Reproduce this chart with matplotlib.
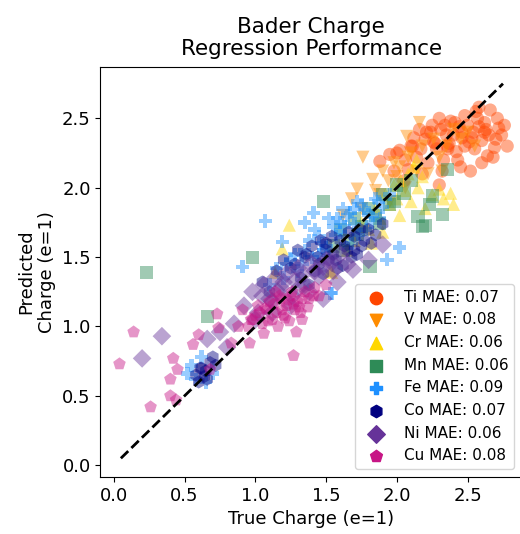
import numpy as np
import matplotlib
matplotlib.use("Agg")
import matplotlib.pyplot as plt

# true / predicted Bader charges
elements = ["Ti", "V", "Cr", "Mn", "Fe", "Co", "Ni", "Cu"]
mae = [0.07, 0.08, 0.06, 0.06, 0.09, 0.07, 0.06, 0.08]

ti_true = [1.88, 1.95, 2.02, 2.08, 2.10, 2.14, 2.16, 2.20, 2.22, 2.25, 2.28, 2.30, 2.32, 2.35, 2.37,
           2.40, 2.42, 2.44, 2.46, 2.48, 2.50, 2.52, 2.54, 2.56, 2.58, 2.60, 2.62, 2.64, 2.66, 2.69,
           2.72, 2.74, 2.05, 2.18, 2.27, 2.33, 2.38, 2.45, 2.51, 2.57, 2.63, 2.68, 1.98, 2.12, 2.24,
           2.36, 2.48, 2.60, 2.70, 2.30, 2.00, 2.06, 2.11, 2.17, 2.21, 2.26, 2.31, 2.36, 2.41, 2.46,
           2.53, 2.58, 2.65, 2.71, 2.76, 2.78, 2.43, 2.55, 2.34, 2.62]
ti_pred = [2.19, 2.24, 2.27, 2.13, 2.30, 2.22, 2.42, 2.35, 2.18, 2.45, 2.28, 2.50, 2.12, 2.38, 2.32,
           2.38, 2.26, 2.44, 2.36, 2.30, 2.45, 2.12, 2.40, 2.55, 2.58, 2.34, 2.47, 2.23, 2.56, 2.29,
           2.43, 2.38, 2.05, 2.10, 2.32, 2.20, 2.48, 2.15, 2.33, 2.50, 2.42, 2.22, 2.12, 2.36, 2.40,
           2.28, 2.52, 2.18, 2.35, 2.02, 2.25, 2.20, 2.30, 2.28, 2.40, 2.33, 2.42, 2.30, 2.47, 2.40,
           2.36, 2.44, 2.38, 2.50, 2.45, 2.30, 2.20, 2.28, 2.45, 2.40]

v_true = [1.62, 1.68, 1.72, 1.76, 1.83, 1.85, 1.90, 1.94, 1.98, 2.02, 2.06, 2.10, 2.14, 2.18, 2.22,
          2.26, 2.30, 2.35, 2.40, 2.45, 1.75, 1.88, 2.00, 2.07, 2.16, 2.32, 2.50, 2.55, 1.95, 2.08]
v_pred = [1.80, 1.92, 1.99, 2.22, 2.06, 1.98, 2.12, 2.05, 2.18, 2.15, 2.00, 2.25, 2.12, 2.30, 2.10,
          2.35, 2.22, 2.30, 2.42, 2.35, 1.85, 1.95, 2.08, 2.37, 2.47, 2.12, 2.40, 2.30, 1.90, 2.22]

cr_true = [1.24, 1.19, 1.14, 1.53, 1.54, 1.70, 1.75, 1.80, 1.85, 1.88, 1.92, 1.95, 1.98, 2.00, 2.03,
           2.06, 2.08, 2.10, 2.12, 2.15, 2.18, 2.20, 2.25, 2.30, 2.33, 2.38, 2.40, 1.90, 2.02, 2.14,
           1.82, 1.65]
cr_pred = [1.73, 1.56, 1.39, 1.40, 1.39, 1.62, 1.75, 1.70, 1.85, 1.78, 1.95, 1.88, 2.02, 1.92, 2.05,
           1.98, 2.10, 1.90, 2.15, 2.00, 2.08, 1.85, 1.95, 1.99, 1.92, 1.96, 1.88, 1.68, 1.80, 2.20,
           1.60, 1.55]

mn_true = [0.23, 0.98, 0.66, 1.81, 1.48, 2.15, 2.18, 2.32, 2.36, 2.25, 2.23, 2.20, 1.55, 1.60, 1.65,
           1.70, 1.75, 1.80, 1.85, 1.90, 1.95, 2.00, 2.05, 1.72, 1.88, 1.62, 1.98, 2.10]
mn_pred = [1.39, 1.50, 1.07, 1.43, 1.90, 1.79, 1.72, 1.81, 2.13, 1.94, 1.88, 1.73, 1.58, 1.70, 1.62,
           1.78, 1.72, 1.85, 1.80, 1.95, 1.88, 2.02, 1.96, 1.66, 1.74, 1.55, 1.90, 2.05]

fe_true = [1.07, 1.35, 1.41, 1.19, 2.02, 1.93, 1.54, 0.91, 1.53, 0.55, 0.58, 0.65, 0.70, 0.52, 0.62,
           1.20, 1.25, 1.30, 1.35, 1.40, 1.45, 1.50, 1.55, 1.60, 1.65, 1.70, 1.75, 1.80, 1.85, 1.90,
           1.95, 1.38, 1.48, 1.58, 1.68, 1.78, 1.88, 1.28, 1.62, 1.72, 1.82, 1.10, 1.15, 1.42, 1.47,
           1.52, 1.57, 1.63, 1.67, 1.73, 1.77, 1.83, 1.87, 1.45, 1.60, 1.70, 1.33, 1.22]
fe_pred = [1.76, 1.75, 1.82, 1.61, 1.57, 1.48, 1.24, 1.43, 1.24, 0.72, 0.62, 0.60, 0.66, 0.66, 0.78,
           1.35, 1.48, 1.40, 1.55, 1.50, 1.65, 1.58, 1.72, 1.68, 1.80, 1.74, 1.88, 1.82, 1.92, 1.86,
           1.95, 1.62, 1.55, 1.78, 1.60, 1.70, 1.78, 1.52, 1.85, 1.90, 1.75, 1.30, 1.42, 1.70, 1.60,
           1.78, 1.66, 1.72, 1.82, 1.66, 1.84, 1.80, 1.90, 1.52, 1.75, 1.85, 1.45, 1.45]

co_true = [0.58, 0.62, 0.65, 0.68, 0.72, 0.60, 0.70, 1.15, 1.20, 1.25, 1.30, 1.35, 1.40, 1.45, 1.50,
           1.55, 1.60, 1.65, 1.70, 1.75, 1.80, 1.85, 1.90, 1.32, 1.42, 1.52, 1.62, 1.72, 1.82, 1.38,
           1.48, 1.58, 1.68, 1.05, 1.10, 1.28, 1.36, 1.44, 1.50, 1.57, 1.63, 1.70, 1.77, 1.46, 1.54,
           1.66, 1.74, 0.64, 0.66, 0.61]
co_pred = [0.65, 0.70, 0.68, 0.74, 0.72, 0.60, 0.78, 1.40, 1.48, 1.42, 1.55, 1.50, 1.58, 1.45, 1.60,
           1.52, 1.62, 1.55, 1.65, 1.58, 1.70, 1.66, 1.74, 1.35, 1.40, 1.48, 1.44, 1.52, 1.60, 1.30,
           1.38, 1.42, 1.50, 1.32, 1.25, 1.45, 1.52, 1.50, 1.55, 1.48, 1.58, 1.55, 1.62, 1.62, 1.65,
           1.68, 1.70, 0.64, 0.62, 0.70]

ni_true = [0.20, 0.34, 0.66, 0.75, 0.85, 0.92, 0.98, 1.02, 1.06, 1.10, 1.14, 1.18, 1.22, 1.26, 1.30,
           1.35, 1.40, 1.45, 1.50, 1.55, 1.60, 1.65, 1.69, 1.80, 1.90, 1.00, 1.12, 1.25, 1.38, 1.48,
           0.80, 1.58, 1.05, 1.12, 1.20, 1.28, 1.34, 1.42, 1.48, 1.54, 1.16, 1.31]
ni_pred = [0.77, 0.93, 0.91, 0.96, 1.02, 1.15, 1.25, 1.10, 1.30, 1.20, 1.35, 1.28, 1.38, 1.22, 1.42,
           1.30, 1.45, 1.36, 1.48, 1.40, 1.52, 1.45, 1.41, 1.48, 1.59, 1.05, 1.10, 1.15, 1.25, 1.20,
           0.85, 1.32, 1.22, 1.18, 1.32, 1.33, 1.38, 1.40, 1.43, 1.46, 1.25, 1.28]

cu_true = [0.04, 0.14, 0.26, 0.42, 0.45, 0.40, 0.40, 0.44, 0.56, 0.60, 0.73, 0.74, 0.83, 1.27, 0.91,
           0.96, 1.29, 1.33, 0.68, 0.95, 1.00, 1.02, 1.05, 1.08, 1.10, 1.12, 1.15, 1.18, 1.20, 1.22,
           1.25, 1.28, 1.30, 1.35, 1.38, 1.42, 1.45, 1.50, 1.06, 1.16, 1.24, 1.32, 0.88, 0.98, 1.14,
           0.97, 1.03, 1.09, 1.13, 1.19, 1.23, 1.27, 1.33, 1.37, 1.41, 1.07, 1.21, 1.17, 1.31, 1.26]
cu_pred = [0.73, 0.96, 0.42, 0.77, 0.69, 0.62, 0.50, 0.47, 0.87, 0.94, 1.09, 0.99, 0.88, 0.79, 1.12,
           0.88, 0.96, 1.05, 0.69, 1.00, 1.08, 1.15, 1.02, 1.12, 1.18, 1.05, 1.10, 1.20, 1.08, 1.15,
           1.22, 1.12, 1.18, 1.25, 1.20, 1.28, 1.22, 1.30, 0.95, 1.00, 1.04, 1.10, 1.00, 1.05, 1.25,
           1.05, 1.10, 1.04, 1.16, 1.12, 1.19, 1.16, 1.20, 1.14, 1.22, 1.13, 1.06, 1.22, 1.14, 1.25]

true_all = [ti_true, v_true, cr_true, mn_true, fe_true, co_true, ni_true, cu_true]
pred_all = [ti_pred, v_pred, cr_pred, mn_pred, fe_pred, co_pred, ni_pred, cu_pred]

colors = ["orangered", "darkorange", "gold", "seagreen", "dodgerblue", "navy", "rebeccapurple",
          "mediumvioletred"]
markers = ["o", "v", "^", "s", "P", "h", "D", "p"]

fig = plt.figure(figsize=(5.2, 5.34), dpi=100)
ax = fig.add_axes([0.193, 0.1067, 0.811, 0.7678])

for i in range(len(elements)):
    ax.scatter(true_all[i], pred_all[i], c=colors[i], marker=markers[i], s=90, alpha=0.45,
               edgecolors="none")

# legend handles at full opacity
for i in range(len(elements)):
    ax.scatter([], [], c=colors[i], marker=markers[i], s=80,
               label=f"{elements[i]} MAE: {mae[i]:.2f}")

ax.plot([0.05, 2.75], [0.05, 2.75], "k--", lw=2)

ax.set_xlim(-0.095, 2.885)
ax.set_ylim(-0.085, 2.87)
ax.set_xticks([0.0, 0.5, 1.0, 1.5, 2.0, 2.5])
ax.set_yticks([0.0, 0.5, 1.0, 1.5, 2.0, 2.5])
ax.tick_params(labelsize=13)
ax.set_xlabel("True Charge (e=1)", fontsize=13)
ax.set_ylabel("Predicted\nCharge (e=1)", fontsize=13)
ax.set_title("Bader Charge\nRegression Performance", fontsize=15.5, linespacing=1.1, pad=9)
ax.legend(loc="lower right", fontsize=11)

fig.savefig("out.png", dpi=100)
